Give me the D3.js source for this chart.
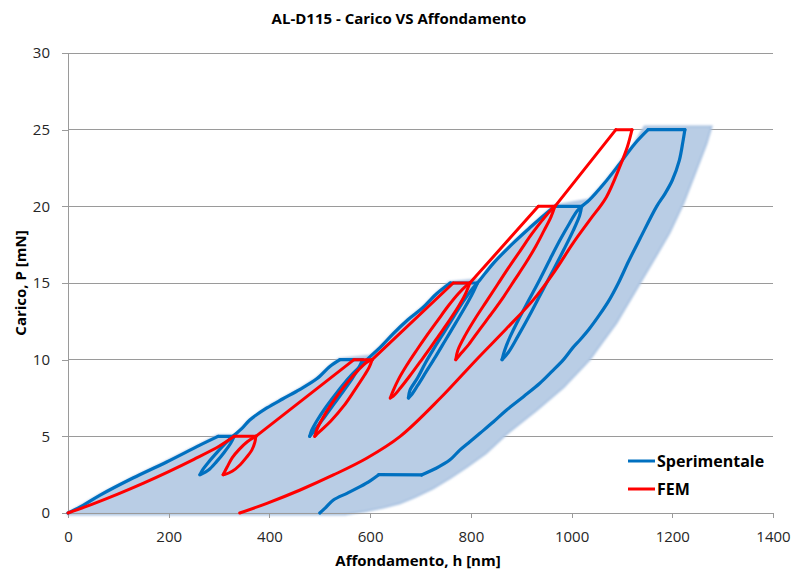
<!DOCTYPE html>
<html>
<head>
<meta charset="utf-8">
<script src="https://cdn.jsdelivr.net/npm/d3@7"></script>
<style>
  html, body { margin: 0; padding: 0; background: #fff; }
  svg { display: block; font-family: "Open Sans", sans-serif; }
</style>
</head>
<body>
<svg id="chart" width="792" height="572"></svg>
<script>
// Axis ticks
const xTicks = [0, 200, 400, 600, 800, 1000, 1200, 1400];
const yTicks = [0, 5, 10, 15, 20, 25, 30];

// Experimental curve: h [nm], P [mN], one array per test phase
const sperimentale = [
  [[0,0],[30,0.5],[63,1.15],[129,2.28],[196,3.33],[262,4.43],[298,5]],
  [[298,5],[330,5]],
  [[330,5],[323,4.55],[310,3.95],[295,3.35],[279,2.8],[266,2.55],[262,2.5]],
  [[262,2.5],[267,2.8],[280,3.35],[296,3.95],[313,4.55],[328,5.02],[345,5.5],[361,6.07],[395,6.85],[427,7.45],[460,8.05],[494,8.75],[520,9.55],[540,10]],
  [[540,10],[585,10]],
  [[585,10],[578,9.5],[565,8.8],[548,8.0],[528,7.1],[508,6.2],[492,5.5],[483,5.12],[480,5]],
  [[480,5],[484,5.4],[494,6.0],[510,6.8],[528,7.6],[547,8.4],[566,9.1],[584,9.7],[600,10.2],[620,10.8],[646,11.7],[675,12.6],[705,13.4],[732,14.3],[759,15]],
  [[759,15],[813,15]],
  [[813,15],[803,14.3],[788,13.4],[770,12.4],[750,11.3],[730,10.2],[711,9.2],[694,8.3],[683,7.75],[676,7.5]],
  [[676,7.5],[679,8.0],[694,8.8],[710,9.8],[728,10.8],[747,11.8],[766,12.8],[785,13.8],[800,14.5],[818,15.2],[845,16.3],[884,17.6],[917,18.6],[950,19.55],[967,20]],
  [[967,20],[1020,20]],
  [[1020,20],[1016,19.4],[1003,18.4],[985,17.2],[963,15.8],[939,14.3],[915,12.8],[893,11.5],[875,10.5],[862,10]],
  [[862,10],[867,10.6],[878,11.5],[896,12.7],[917,14.0],[938,15.3],[958,16.6],[977,17.8],[996,18.9],[1011,19.7],[1024,20.1],[1035,20.4],[1065,21.5],[1096,22.8],[1126,24.1],[1152,25]],
  [[1152,25],[1225,25]],
  [[1225,25],[1221,24.2],[1214,23],[1200,21.7],[1185,20.8],[1169,20],[1136,17.9],[1113,16.4],[1093,15],[1075,13.9],[1056,12.95],[1035,12.0],[1017,11.3],[1003,10.8],[984,10],[960,9.2],[937,8.46],[905,7.6],[871,6.72],[845,5.95],[818,5.2],[798,4.65],[778,4.1],[758,3.45],[730,2.9],[702,2.48]],
  [[702,2.48],[617,2.5]],
  [[617,2.5],[600,2.1],[580,1.72],[555,1.3],[527,0.85],[510,0.3],[500,0]]
];

// FEM simulation: h [nm], P [mN], one array per phase
const fem = [
  [[0,0],[50,0.6],[100,1.25],[150,1.95],[200,2.7],[250,3.5],[300,4.35],[330,5]],
  [[330,5],[373,5]],
  [[373,5],[371,4.6],[365,4.1],[355,3.65],[342,3.15],[326,2.72],[312,2.52],[308,2.5]],
  [[308,2.5],[310,2.62],[316,3.0],[326,3.6],[340,4.15],[356,4.65],[373,5]],
  [[373,5],[568,10]],
  [[568,10],[604,10]],
  [[604,10],[598,9.5],[589,9.0],[569,8.0],[548,7.0],[522,6.0],[503,5.4],[493,5.1],[490,5]],
  [[490,5],[495,5.5],[506,6.2],[521,7.0],[538,7.8],[557,8.6],[576,9.3],[592,9.8],[604,10]],
  [[604,10],[765,15]],
  [[765,15],[798,15]],
  [[798,15],[788,14.2],[774,13.4],[756,12.5],[737,11.6],[718,10.7],[698,9.8],[679,8.95],[660,8.15],[646,7.62],[640,7.5]],
  [[640,7.5],[646,8.0],[656,8.7],[672,9.6],[692,10.6],[713,11.6],[735,12.6],[755,13.5],[775,14.3],[790,14.8],[798,15]],
  [[798,15],[934,20]],
  [[934,20],[967,20]],
  [[967,20],[959,19.3],[945,18.4],[929,17.4],[909,16.3],[887,15.2],[865,14.1],[841,13.0],[817,11.95],[796,11.0],[779,10.35],[770,10]],
  [[770,10],[774,10.6],[789,11.6],[809,12.7],[831,13.8],[853,14.9],[875,16.0],[898,17.1],[921,18.2],[942,19.1],[956,19.65],[967,20]],
  [[967,20],[1088,25]],
  [[1088,25],[1120,25]],
  [[1120,25],[1111,23.9],[1096,22.6],[1069,20.6],[1036,19.1],[1003,17.6],[965,15.7],[924,13.9],[870,12.0],[811,10],[739,7.48],[659,4.98],[593,3.57],[527,2.48],[461,1.5],[395,0.63],[341,0]]
];

// Scatter band of the experimental tests (closed outline)
const banda = [
  [0,0],[30,0.55],[63,1.2],[129,2.33],[196,3.38],[262,4.48],[296,5.05],[330,5.05],[345,5.55],[361,6.1],
  [395,6.9],[427,7.5],[460,8.1],[494,8.8],[520,9.6],[538,10.05],[600,10.25],[620,10.85],[646,11.75],
  [675,12.65],[705,13.45],[732,14.35],[757,15.05],[818,15.25],[845,16.35],[884,17.65],[917,18.65],
  [950,19.6],[965,20.05],[1035,20.45],[1065,21.55],[1096,22.85],[1126,24.15],[1145,25.2],[1278,25.2],
  [1268,24.1],[1248,22.4],[1222,20.2],[1195,18.3],[1172,17.0],[1136,15.0],[1089,12.4],[1060,11.1],
  [1036,10],[984,8.2],[931,6.72],[871,5.15],[830,3.9],[792,3.0],[760,2.3],[725,1.6],[690,1.05],
  [659,0.63],[626,0.35],[590,0.12],[550,-0.1],[0,-0.1]
];

const legendLabels = ["Sperimentale", "FEM"];
const legendColors = ["#0070c0", "#ff0000"];

const svg = d3.select("#chart");
const x = d3.scaleLinear().domain([0, 1400]).range([68, 773]);
const y = d3.scaleLinear().domain([0, 30]).range([513, 53]);

// soft edge for the band
const defs = svg.append("defs");
defs.append("filter").attr("id", "soft")
  .attr("x", "-5%").attr("y", "-5%").attr("width", "110%").attr("height", "110%")
  .append("feGaussianBlur").attr("stdDeviation", 0.9);

// horizontal gridlines
svg.append("g").selectAll("line")
  .data(yTicks.filter(d => d > 0))
  .join("line")
  .attr("x1", x(0)).attr("x2", x(1400))
  .attr("y1", d => y(d)).attr("y2", d => y(d))
  .attr("stroke", "#9a9a9a").attr("stroke-width", 1)
  .attr("shape-rendering", "crispEdges");

// band
const bandLine = d3.line().x(d => x(d[0])).y(d => y(d[1])).curve(d3.curveLinear);
svg.append("path")
  .attr("d", bandLine(banda) + "Z")
  .attr("fill", "#b9cde5")
  .attr("stroke", "#a8c1e0")
  .attr("stroke-width", 2)
  .attr("filter", "url(#soft)");

// axes
const yAxis = svg.append("g")
  .attr("transform", `translate(${x(0)},0)`)
  .call(d3.axisLeft(y).tickValues(yTicks).tickFormat(d3.format("d"))
    .tickSize(6).tickPadding(12).tickSizeOuter(0));
const xAxis = svg.append("g")
  .attr("transform", `translate(0,${y(0)})`)
  .call(d3.axisBottom(x).tickValues(xTicks).tickFormat(d3.format("d"))
    .tickSize(5).tickPadding(13).tickSizeOuter(0));

[yAxis, xAxis].forEach(g => {
  g.select(".domain").attr("stroke", "#9a9a9a").attr("shape-rendering", "crispEdges");
  g.selectAll(".tick line").attr("stroke", "#9a9a9a").attr("shape-rendering", "crispEdges");
  g.selectAll(".tick text")
    .attr("fill", "#262626")
    .style("font-family", "'Open Sans', sans-serif")
    .style("font-size", "15px");
});

// curves
const curve = d3.line().x(d => x(d[0])).y(d => y(d[1])).curve(d3.curveCatmullRom.alpha(0.5));
function drawSeries(segments, color, width) {
  svg.append("g")
    .attr("fill", "none")
    .attr("stroke", color)
    .attr("stroke-width", width)
    .attr("stroke-linecap", "round")
    .attr("stroke-linejoin", "round")
    .selectAll("path")
    .data(segments)
    .join("path")
    .attr("d", curve);
}
drawSeries(sperimentale, legendColors[0], 3.2);
drawSeries(fem, legendColors[1], 3);

// title and axis titles
svg.append("text")
  .attr("x", 399).attr("y", 24)
  .attr("text-anchor", "middle")
  .style("font-size", "15px").style("font-weight", "bold")
  .attr("fill", "#000")
  .text("AL-D115 - Carico VS Affondamento");

svg.append("text")
  .attr("x", 418).attr("y", 566)
  .attr("text-anchor", "middle")
  .style("font-size", "15px").style("font-weight", "bold")
  .attr("fill", "#000")
  .text("Affondamento, h [nm]");

svg.append("text")
  .attr("transform", "translate(26,283) rotate(-90)")
  .attr("text-anchor", "middle")
  .style("font-size", "15px").style("font-weight", "bold")
  .attr("fill", "#000")
  .text("Carico, P [mN]");

// legend
const legend = svg.append("g").selectAll("g")
  .data(legendLabels)
  .join("g")
  .attr("transform", (d, i) => `translate(628,${461 + i * 28})`);
legend.append("line")
  .attr("x1", 0).attr("x2", 27)
  .attr("stroke", (d, i) => legendColors[i])
  .attr("stroke-width", 3);
legend.append("text")
  .attr("x", 29).attr("y", 6)
  .style("font-size", "16px").style("font-weight", "bold")
  .attr("fill", "#000")
  .text(d => d);
</script>
</body>
</html>
